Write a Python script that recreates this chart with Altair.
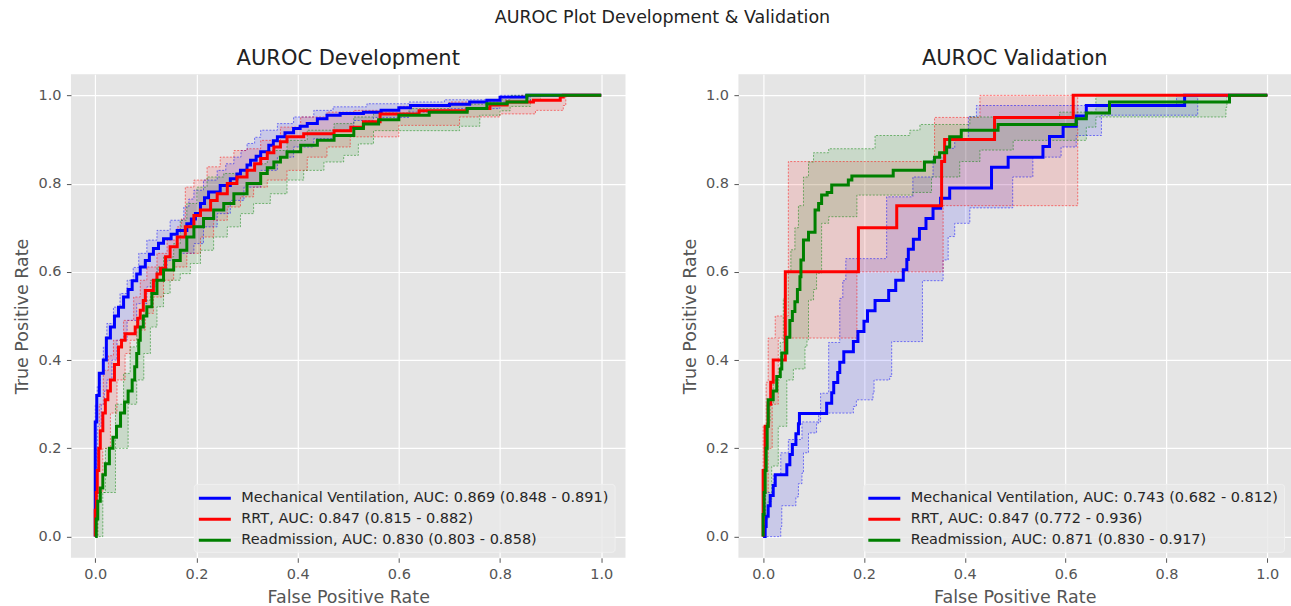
import altair as alt
import pandas as pd

TICKS = [0.0, 0.2, 0.4, 0.6, 0.8, 1.0]
COLORS = ["#0000FF", "#FF0000", "#008000"]

SUPTITLE = "AUROC Plot Development & Validation"
DEV_TITLE = "AUROC Development"
VAL_TITLE = "AUROC Validation"

DEV_LABELS = [
    "Mechanical Ventilation, AUC: 0.869 (0.848 - 0.891)",
    "RRT, AUC: 0.847 (0.815 - 0.882)",
    "Readmission, AUC: 0.830 (0.803 - 0.858)",
]
VAL_LABELS = [
    "Mechanical Ventilation, AUC: 0.743 (0.682 - 0.812)",
    "RRT, AUC: 0.847 (0.772 - 0.936)",
    "Readmission, AUC: 0.871 (0.830 - 0.917)",
]

# ---------------- Development: ROC curves (fpr, tpr) ----------------
DEV_MV = [(0, 0), (0, 0.26), (0.003, 0.32), (0.008, 0.37), (0.016, 0.40), (0.022, 0.45), (0.03, 0.475),
          (0.038, 0.50), (0.046, 0.52), (0.056, 0.543), (0.065, 0.56), (0.073, 0.58), (0.082, 0.595),
          (0.089, 0.611), (0.099, 0.626), (0.107, 0.64), (0.115, 0.653), (0.125, 0.665), (0.135, 0.675),
          (0.15, 0.685), (0.162, 0.694), (0.181, 0.709), (0.19, 0.72), (0.198, 0.732), (0.208, 0.755),
          (0.216, 0.768), (0.224, 0.781), (0.247, 0.796), (0.267, 0.811), (0.28, 0.822), (0.287, 0.83),
          (0.3, 0.842), (0.307, 0.853), (0.318, 0.862), (0.327, 0.872), (0.343, 0.887), (0.352, 0.897),
          (0.36, 0.906), (0.375, 0.915), (0.392, 0.925), (0.405, 0.93), (0.419, 0.936), (0.439, 0.947),
          (0.458, 0.955), (0.484, 0.959), (0.53, 0.962), (0.565, 0.966), (0.6, 0.972), (0.623, 0.977),
          (0.7, 0.98), (0.74, 0.985), (0.774, 0.989), (0.8, 0.996), (0.853, 1.0), (1.0, 1.0)]
DEV_RRT = [(0, 0), (0, 0.06), (0.002, 0.1), (0.004, 0.15), (0.007, 0.2), (0.01, 0.24), (0.015, 0.28),
           (0.02, 0.31), (0.025, 0.33), (0.03, 0.355), (0.038, 0.39), (0.046, 0.43), (0.052, 0.445),
           (0.059, 0.46), (0.079, 0.475), (0.084, 0.495), (0.089, 0.513), (0.095, 0.535), (0.099, 0.558),
           (0.115, 0.581), (0.122, 0.595), (0.129, 0.608), (0.139, 0.634), (0.148, 0.657), (0.162, 0.679),
           (0.178, 0.702), (0.195, 0.728), (0.208, 0.74), (0.228, 0.762), (0.241, 0.777), (0.261, 0.8),
           (0.28, 0.815), (0.3, 0.83), (0.315, 0.845), (0.327, 0.857), (0.34, 0.87), (0.353, 0.883),
           (0.366, 0.895), (0.379, 0.906), (0.412, 0.913), (0.472, 0.92), (0.505, 0.928), (0.53, 0.94),
           (0.563, 0.958), (0.64, 0.965), (0.735, 0.97), (0.78, 0.978), (0.814, 0.985), (0.866, 0.989),
           (0.919, 0.996), (0.925, 1.0), (1.0, 1.0)]
DEV_READM = [(0, 0), (0.002, 0.04), (0.005, 0.08), (0.01, 0.11), (0.015, 0.14), (0.02, 0.165), (0.028, 0.2),
             (0.035, 0.225), (0.042, 0.25), (0.05, 0.28), (0.058, 0.305), (0.065, 0.33), (0.073, 0.355),
             (0.078, 0.385), (0.082, 0.415), (0.086, 0.445), (0.089, 0.475), (0.095, 0.5), (0.102, 0.521),
             (0.112, 0.551), (0.122, 0.581), (0.135, 0.604), (0.155, 0.626), (0.168, 0.649), (0.181, 0.679),
             (0.195, 0.702), (0.214, 0.721), (0.234, 0.74), (0.254, 0.755), (0.274, 0.777), (0.3, 0.8),
             (0.327, 0.823), (0.34, 0.836), (0.353, 0.849), (0.366, 0.86), (0.379, 0.872), (0.406, 0.887),
             (0.439, 0.898), (0.472, 0.909), (0.511, 0.925), (0.53, 0.935), (0.56, 0.945), (0.6, 0.955),
             (0.66, 0.962), (0.735, 0.97), (0.774, 0.981), (0.814, 0.985), (0.853, 1.0), (1.0, 1.0)]

# Development: confidence bands (lower / upper)
DEV_MV_LO = [(0, 0), (0.002, 0.15), (0.005, 0.25), (0.012, 0.3), (0.018, 0.33), (0.023, 0.355), (0.033, 0.4),
             (0.043, 0.445), (0.063, 0.49), (0.082, 0.528), (0.102, 0.566), (0.122, 0.604), (0.142, 0.626),
             (0.168, 0.642), (0.195, 0.664), (0.214, 0.702), (0.241, 0.732), (0.267, 0.762), (0.294, 0.792),
             (0.327, 0.83), (0.36, 0.86), (0.392, 0.883), (0.432, 0.902), (0.472, 0.921), (0.511, 0.943),
             (0.55, 0.95), (0.62, 0.962), (0.7, 0.97), (0.8, 0.985), (0.86, 1.0), (1.0, 1.0)]
DEV_MV_HI = [(0, 0), (0, 0.3), (0.004, 0.34), (0.01, 0.37), (0.016, 0.43), (0.023, 0.483), (0.036, 0.52),
             (0.049, 0.551), (0.063, 0.581), (0.075, 0.61), (0.086, 0.642), (0.102, 0.672), (0.122, 0.694),
             (0.148, 0.717), (0.175, 0.747), (0.185, 0.765), (0.195, 0.785), (0.214, 0.808), (0.241, 0.83),
             (0.258, 0.845), (0.274, 0.86), (0.288, 0.875), (0.3, 0.891), (0.315, 0.905), (0.327, 0.921),
             (0.36, 0.936), (0.392, 0.951), (0.432, 0.966), (0.47, 0.974), (0.537, 0.981), (0.62, 0.985),
             (0.69, 0.99), (0.8, 1.0), (1.0, 1.0)]
DEV_RRT_LO = [(0, 0), (0.005, 0.1), (0.015, 0.2), (0.03, 0.28), (0.043, 0.355), (0.059, 0.415), (0.069, 0.445),
              (0.089, 0.468), (0.099, 0.506), (0.115, 0.543), (0.135, 0.581), (0.155, 0.611), (0.181, 0.642),
              (0.208, 0.679), (0.234, 0.717), (0.261, 0.747), (0.287, 0.77), (0.313, 0.792), (0.34, 0.808),
              (0.379, 0.83), (0.419, 0.86), (0.458, 0.883), (0.504, 0.906), (0.6, 0.932), (0.72, 0.951),
              (0.8, 0.958), (0.87, 0.966), (0.925, 0.977), (0.93, 1.0), (1.0, 1.0)]
DEV_RRT_HI = [(0, 0), (0, 0.12), (0.003, 0.2), (0.008, 0.3), (0.016, 0.377), (0.026, 0.41), (0.036, 0.445),
              (0.056, 0.49), (0.076, 0.543), (0.089, 0.581), (0.102, 0.611), (0.122, 0.642), (0.142, 0.672),
              (0.162, 0.702), (0.17, 0.72), (0.178, 0.792), (0.195, 0.808), (0.221, 0.838), (0.247, 0.86),
              (0.274, 0.875), (0.3, 0.879), (0.327, 0.898), (0.366, 0.928), (0.406, 0.951), (0.458, 0.962),
              (0.511, 0.966), (0.6, 0.975), (0.7, 0.985), (0.8, 0.995), (0.84, 1.0), (1.0, 1.0)]
DEV_READM_LO = [(0, 0), (0.015, 0.1), (0.04, 0.2), (0.065, 0.3), (0.082, 0.355), (0.096, 0.415), (0.109, 0.475),
                (0.122, 0.521), (0.135, 0.551), (0.148, 0.581), (0.168, 0.596), (0.188, 0.619), (0.208, 0.649),
                (0.234, 0.679), (0.261, 0.702), (0.287, 0.732), (0.313, 0.755), (0.346, 0.777), (0.379, 0.808),
                (0.412, 0.83), (0.452, 0.849), (0.491, 0.864), (0.52, 0.89), (0.55, 0.92), (0.72, 0.93),
                (0.76, 0.955), (0.8, 0.965), (0.82, 0.975), (0.86, 0.99), (0.88, 1.0), (1.0, 1.0)]
DEV_READM_HI = [(0, 0), (0.005, 0.1), (0.02, 0.2), (0.04, 0.3), (0.056, 0.37), (0.069, 0.43), (0.082, 0.49),
                (0.096, 0.536), (0.109, 0.581), (0.122, 0.611), (0.135, 0.634), (0.155, 0.664), (0.168, 0.717),
                (0.181, 0.755), (0.201, 0.792), (0.221, 0.815), (0.254, 0.823), (0.287, 0.83), (0.313, 0.845),
                (0.34, 0.875), (0.379, 0.898), (0.419, 0.921), (0.472, 0.936), (0.511, 0.951), (0.55, 0.96),
                (0.62, 0.97), (0.7, 0.98), (0.78, 0.99), (0.82, 1.0), (1.0, 1.0)]

# ---------------- Validation: ROC curves ----------------
VAL_MV = [(0, 0), (0.004, 0.0), (0.004, 0.023), (0.006, 0.046), (0.01, 0.07), (0.014, 0.093), (0.02, 0.116),
          (0.024, 0.14), (0.047, 0.163), (0.053, 0.186), (0.058, 0.209), (0.065, 0.233), (0.07, 0.256),
          (0.072, 0.279), (0.126, 0.302), (0.136, 0.326), (0.14, 0.349), (0.148, 0.372), (0.152, 0.395),
          (0.16, 0.419), (0.179, 0.442), (0.188, 0.465), (0.2, 0.488), (0.207, 0.512), (0.222, 0.535),
          (0.249, 0.558), (0.263, 0.581), (0.278, 0.605), (0.285, 0.628), (0.288, 0.651), (0.298, 0.674),
          (0.31, 0.698), (0.323, 0.721), (0.337, 0.744), (0.352, 0.767), (0.37, 0.79), (0.453, 0.837),
          (0.486, 0.86), (0.555, 0.884), (0.568, 0.907), (0.595, 0.93), (0.621, 0.953), (0.641, 0.977),
          (0.836, 1.0), (1.0, 1.0)]
VAL_RRT = [(0, 0), (0, 0.15), (0.004, 0.25), (0.01, 0.30), (0.015, 0.35), (0.02, 0.40), (0.044, 0.60),
           (0.189, 0.70), (0.265, 0.75), (0.354, 0.85), (0.36, 0.90), (0.459, 0.95), (0.615, 1.0), (1.0, 1.0)]
VAL_READM = [(0, 0), (0, 0.05), (0.002, 0.1), (0.004, 0.15), (0.006, 0.2), (0.008, 0.25), (0.01, 0.31),
             (0.02, 0.33), (0.027, 0.363), (0.034, 0.38), (0.037, 0.416), (0.047, 0.452), (0.053, 0.49),
             (0.058, 0.51), (0.063, 0.532), (0.068, 0.56), (0.073, 0.589), (0.075, 0.627), (0.08, 0.672),
             (0.09, 0.69), (0.103, 0.74), (0.11, 0.755), (0.116, 0.774), (0.127, 0.78), (0.136, 0.797),
             (0.169, 0.808), (0.176, 0.817), (0.258, 0.83), (0.32, 0.849), (0.34, 0.86), (0.35, 0.87),
             (0.364, 0.883), (0.37, 0.906), (0.393, 0.921), (0.466, 0.934), (0.621, 0.947), (0.641, 0.96),
             (0.687, 0.985), (0.925, 1.0), (1.0, 1.0)]

# Validation: confidence bands (lower / upper)
VAL_MV_LO = [(0, 0), (0.035, 0.023), (0.037, 0.07), (0.065, 0.09), (0.07, 0.12), (0.077, 0.144), (0.08, 0.19),
             (0.09, 0.235), (0.106, 0.257), (0.11, 0.28), (0.179, 0.295), (0.185, 0.31), (0.218, 0.325),
             (0.22, 0.355), (0.251, 0.363), (0.255, 0.442), (0.316, 0.58), (0.357, 0.627), (0.367, 0.68),
             (0.38, 0.71), (0.41, 0.745), (0.495, 0.815), (0.535, 0.86), (0.591, 0.883), (0.621, 0.909),
             (0.671, 0.955), (0.862, 1.0), (1.0, 1.0)]
VAL_MV_HI = [(0, 0), (0, 0.05), (0.005, 0.1), (0.02, 0.14), (0.035, 0.19), (0.05, 0.22), (0.077, 0.26),
             (0.114, 0.325), (0.13, 0.44), (0.152, 0.54), (0.158, 0.58), (0.164, 0.63), (0.245, 0.77),
             (0.297, 0.815), (0.337, 0.86), (0.36, 0.88), (0.38, 0.9), (0.407, 0.952), (0.423, 0.977),
             (0.82, 1.0), (1.0, 1.0)]
VAL_RRT_LO = [(0, 0), (0.004, 0.1), (0.01, 0.2), (0.018, 0.3), (0.03, 0.45), (0.186, 0.6), (0.357, 0.75),
              (0.624, 1.0), (1.0, 1.0)]
VAL_RRT_HI = [(0, 0), (0, 0.25), (0.006, 0.35), (0.01, 0.45), (0.024, 0.5), (0.05, 0.85), (0.34, 0.95),
              (0.43, 1.0), (1.0, 1.0)]
VAL_READM_LO = [(0, 0), (0.004, 0.04), (0.01, 0.08), (0.017, 0.16), (0.03, 0.25), (0.047, 0.355), (0.06, 0.38),
                (0.083, 0.43), (0.087, 0.446), (0.09, 0.536), (0.1, 0.56), (0.106, 0.597), (0.116, 0.71),
                (0.13, 0.725), (0.186, 0.774), (0.297, 0.78), (0.334, 0.815), (0.39, 0.85), (0.43, 0.876),
                (0.496, 0.898), (0.641, 0.928), (0.66, 0.951), (0.918, 0.973), (0.92, 1.0), (1.0, 1.0)]
VAL_READM_HI = [(0, 0), (0, 0.08), (0.004, 0.16), (0.007, 0.258), (0.014, 0.3), (0.02, 0.355), (0.034, 0.44),
                (0.04, 0.54), (0.045, 0.6), (0.055, 0.65), (0.063, 0.7), (0.07, 0.75), (0.08, 0.815),
                (0.09, 0.849), (0.1, 0.87), (0.13, 0.879), (0.222, 0.909), (0.291, 0.921), (0.311, 0.934),
                (0.41, 0.951), (0.588, 0.962), (0.66, 1.0), (1.0, 1.0)]

FONT = "DejaVu Sans"


def curve_df(points, label=""):
    return pd.DataFrame({
        "fpr": [p[0] for p in points],
        "tpr": [p[1] for p in points],
        "i": list(range(len(points))),
        "label": label,
    })


def step_value(points, x):
    v = points[0][1]
    for px, py in points:
        if px <= x:
            v = py
        else:
            break
    return v


def band_df(lo, hi):
    grid = sorted(set(p[0] for p in lo) | set(p[0] for p in hi))
    return pd.DataFrame({
        "fpr": grid,
        "lo": [step_value(lo, g) for g in grid],
        "hi": [step_value(hi, g) for g in grid],
    })


def panel(title, curves, bands, labels, x_domain, width, legend_x):
    xs = alt.Scale(domain=x_domain, nice=False, zero=False)
    ys = alt.Scale(domain=[-0.048, 1.048], nice=False, zero=False)
    xax = alt.Axis(values=TICKS, format=".1f", title="False Positive Rate")
    yax = alt.Axis(values=TICKS, format=".1f", title="True Positive Rate")
    X = alt.X("fpr:Q", scale=xs, axis=xax)

    layers = []
    for (lo, hi), color in zip(bands, COLORS):
        layers.append(
            alt.Chart(band_df(lo, hi)).mark_area(
                interpolate="step-after", color=color, opacity=0.12
            ).encode(x=X, y=alt.Y("hi:Q", scale=ys, axis=yax), y2="lo:Q")
        )
    for (lo, hi), color in zip(bands, COLORS):
        for pts in (lo, hi):
            layers.append(
                alt.Chart(curve_df(pts)).mark_line(
                    interpolate="step-after", color=color, strokeWidth=1,
                    strokeDash=[2, 1.5], opacity=0.5
                ).encode(x=X, y=alt.Y("tpr:Q", scale=ys, axis=yax), order="i:Q")
            )

    legend = alt.Legend(
        orient="none", legendX=legend_x, legendY=410, title=None,
        symbolType="M-2,0L2,0", symbolSize=256, symbolStrokeWidth=3,
        symbolOffset=6.5, labelOffset=17, padding=5, rowPadding=5,
        labelFontSize=14.5, labelFont=FONT, labelColor="#262626", labelLimit=700,
        fillColor="rgba(232,232,232,0.8)", strokeColor="#F0F0F0", cornerRadius=3,
    )
    cscale = alt.Scale(domain=labels, range=COLORS)
    for pts, lab in zip(curves, labels):
        layers.append(
            alt.Chart(curve_df(pts, lab)).mark_line(
                interpolate="step-after", strokeWidth=3
            ).encode(
                x=X, y=alt.Y("tpr:Q", scale=ys, axis=yax), order="i:Q",
                color=alt.Color("label:N", scale=cscale, legend=legend),
            )
        )
    return alt.layer(*layers).properties(
        width=width, height=484,
        title=alt.Title(title, fontSize=21, font=FONT, fontWeight="normal",
                        color="#222222", anchor="middle", offset=5),
    )


left = panel(DEV_TITLE, [DEV_MV, DEV_RRT, DEV_READM],
             [(DEV_MV_LO, DEV_MV_HI), (DEV_RRT_LO, DEV_RRT_HI), (DEV_READM_LO, DEV_READM_HI)],
             DEV_LABELS, [-0.048, 1.048], 555, 123)
right = panel(VAL_TITLE, [VAL_MV, VAL_RRT, VAL_READM],
              [(VAL_MV_LO, VAL_MV_HI), (VAL_RRT_LO, VAL_RRT_HI), (VAL_READM_LO, VAL_READM_HI)],
              VAL_LABELS, [-0.049, 1.047], 553, 125)

chart = alt.hconcat(left, right, spacing=113, bounds="flush").resolve_scale(
    x="independent", y="independent", color="independent"
).properties(
    title=alt.Title(SUPTITLE, fontSize=17.5, font=FONT, fontWeight="normal",
                    color="#222222", anchor="middle", offset=22, dx=10),
    padding={"left": 13, "top": 8, "right": 0, "bottom": 0},
).configure_view(
    fill="#E5E5E5", stroke=None
).configure_axis(
    grid=True, gridColor="white", gridWidth=1.2, domain=False,
    tickColor="#555555", tickSize=4.5, tickWidth=1,
    labelColor="#555555", labelFontSize=14.5, labelFont=FONT, labelPadding=5.5,
    labelFlush=False, labelOverlap=False,
    titleColor="#555555", titleFontSize=17.5, titleFont=FONT, titleFontWeight="normal",
    titlePadding=6,
).configure_axisX(
    titlePadding=7.5
)

chart.save("out.html", embed_options={"renderer": "svg", "actions": False})
